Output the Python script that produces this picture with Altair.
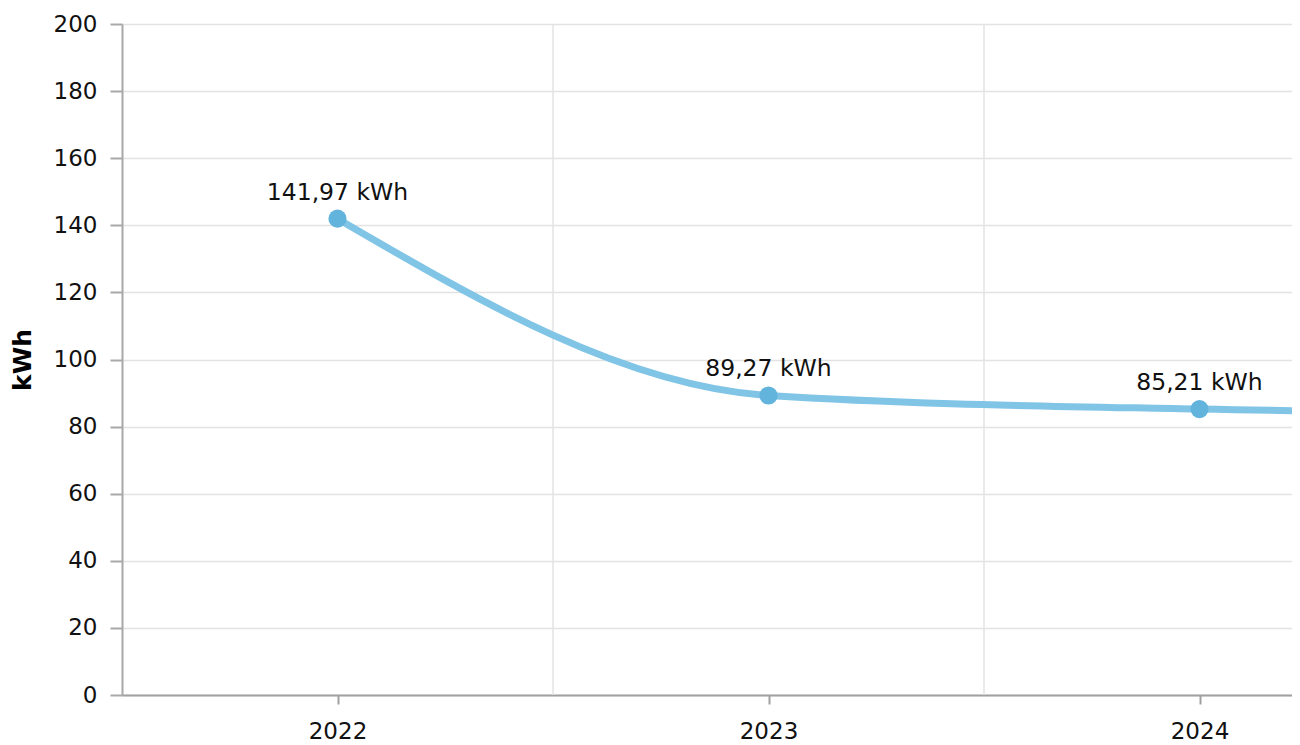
import altair as alt
import pandas as pd

years = [2022, 2023, 2024, 2025]
values = [141.97, 89.27, 85.21, 83.9]
band_edges = [2022.5, 2023.5, 2024.5]
y_ticks = [0, 20, 40, 60, 80, 100, 120, 140, 160, 180, 200]
x_ticks = [2022, 2023, 2024]

df = pd.DataFrame({"year": years, "value": values})
df["label"] = [f"{v:.2f}".replace(".", ",") + " kWh" for v in values]
grid_df = pd.DataFrame({"edge": band_edges})

FONT = "DejaVu Sans"
X_END = 2021.5 + 1170 / 431
x_scale = alt.Scale(domain=[2021.5, X_END], nice=False, zero=False)
y_scale = alt.Scale(domain=[0, 200], nice=False)

x_axis = alt.Axis(
    values=x_ticks, format="d", title=None, grid=False,
    domainColor="#a0a0a0", domainWidth=2, tickColor="#a0a0a0", tickWidth=2,
    tickSize=9, labelPadding=16, labelFontSize=23, labelFont=FONT,
    labelColor="#111111", labelFlush=False,
)
y_axis = alt.Axis(
    values=y_ticks, title="kWh", titleFont=FONT, titleFontSize=25,
    titleFontWeight="bold", titleColor="#000000", titlePadding=18,
    grid=True, gridColor="#e3e3e3", gridWidth=1.5,
    domainColor="#a8a8a8", domainWidth=2, tickColor="#a8a8a8", tickWidth=2,
    tickSize=12, labelPadding=13, labelFontSize=23, labelFont=FONT,
    labelColor="#111111",
)

grid = alt.Chart(grid_df).mark_rule(color="#e3e3e3", strokeWidth=1.5, clip=True).encode(
    x=alt.X("edge:Q", scale=x_scale, axis=x_axis),
)

line = alt.Chart(df).mark_line(
    color="#80c4e6", strokeWidth=7, interpolate="monotone", clip=True
).encode(
    x=alt.X("year:Q", scale=x_scale, axis=x_axis),
    y=alt.Y("value:Q", scale=y_scale, axis=y_axis),
)

points = alt.Chart(df).mark_circle(
    color="#62b4dd", size=330, opacity=1, clip=True
).encode(
    x=alt.X("year:Q", scale=x_scale),
    y=alt.Y("value:Q", scale=y_scale),
)

labels = alt.Chart(df).transform_filter(
    alt.datum.year <= X_END
).mark_text(
    font=FONT, fontSize=23.5, color="#111111", dy=-19, baseline="alphabetic",
    align="center",
).encode(
    x=alt.X("year:Q", scale=x_scale),
    y=alt.Y("value:Q", scale=y_scale),
    text="label:N",
)

chart = alt.layer(grid, line, points, labels).properties(
    width=1170, height=671,
    autosize="none",
    padding={"left": 114, "top": 16, "right": 0, "bottom": 50},
).configure_view(stroke=None).configure(background="white")

chart.save("out.html", embed_options={"renderer": "svg", "actions": False})
